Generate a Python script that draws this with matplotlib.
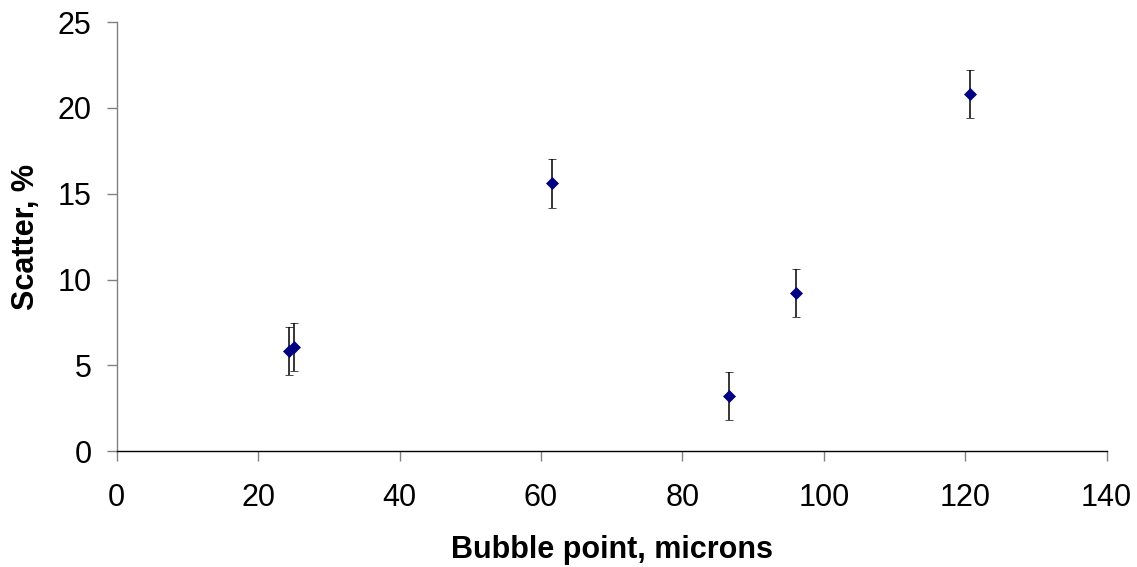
import matplotlib
matplotlib.use("Agg")
import matplotlib.pyplot as plt

plt.rcParams['font.family'] = ['Liberation Sans', 'DejaVu Sans']

bubble_point = [24.4, 25.1, 61.6, 86.6, 96.1, 120.7]
scatter_pct = [5.85, 6.1, 15.6, 3.22, 9.23, 20.82]
scatter_err = [1.4, 1.4, 1.4, 1.4, 1.4, 1.4]

x_ticks = [0, 20, 40, 60, 80, 100, 120, 140]
y_ticks = [0, 5, 10, 15, 20, 25]

fig = plt.figure(figsize=(11.37, 5.67), dpi=100)
ax = fig.add_axes([0.1026, 0.204, 0.8707, 0.757])

ax.errorbar(bubble_point, scatter_pct, yerr=scatter_err, fmt='D', color='#000080',
            markersize=6.3, ecolor='black', elinewidth=1.1, capsize=2.8, capthick=1.1,
            markeredgewidth=0.5, zorder=3)

ax.set_xlim(0, 140)
ax.set_ylim(0, 25)
ax.set_xticks(x_ticks)
ax.set_yticks(y_ticks)

ax.spines['top'].set_visible(False)
ax.spines['right'].set_visible(False)
ax.spines['left'].set_color('#808080')
ax.spines['bottom'].set_color('black')
ax.spines['left'].set_linewidth(1.0)
ax.spines['bottom'].set_linewidth(1.0)

ax.tick_params(axis='both', direction='out', length=7, width=1.0, color='#808080',
               labelsize=22)
ax.tick_params(axis='x', pad=16)
ax.tick_params(axis='y', pad=11)

ax.set_xlabel('Bubble point, microns', fontsize=22, fontweight='bold', labelpad=16)
ax.set_ylabel('Scatter, %', fontsize=22, fontweight='bold', labelpad=12)

fig.savefig('out.png', dpi=100)
